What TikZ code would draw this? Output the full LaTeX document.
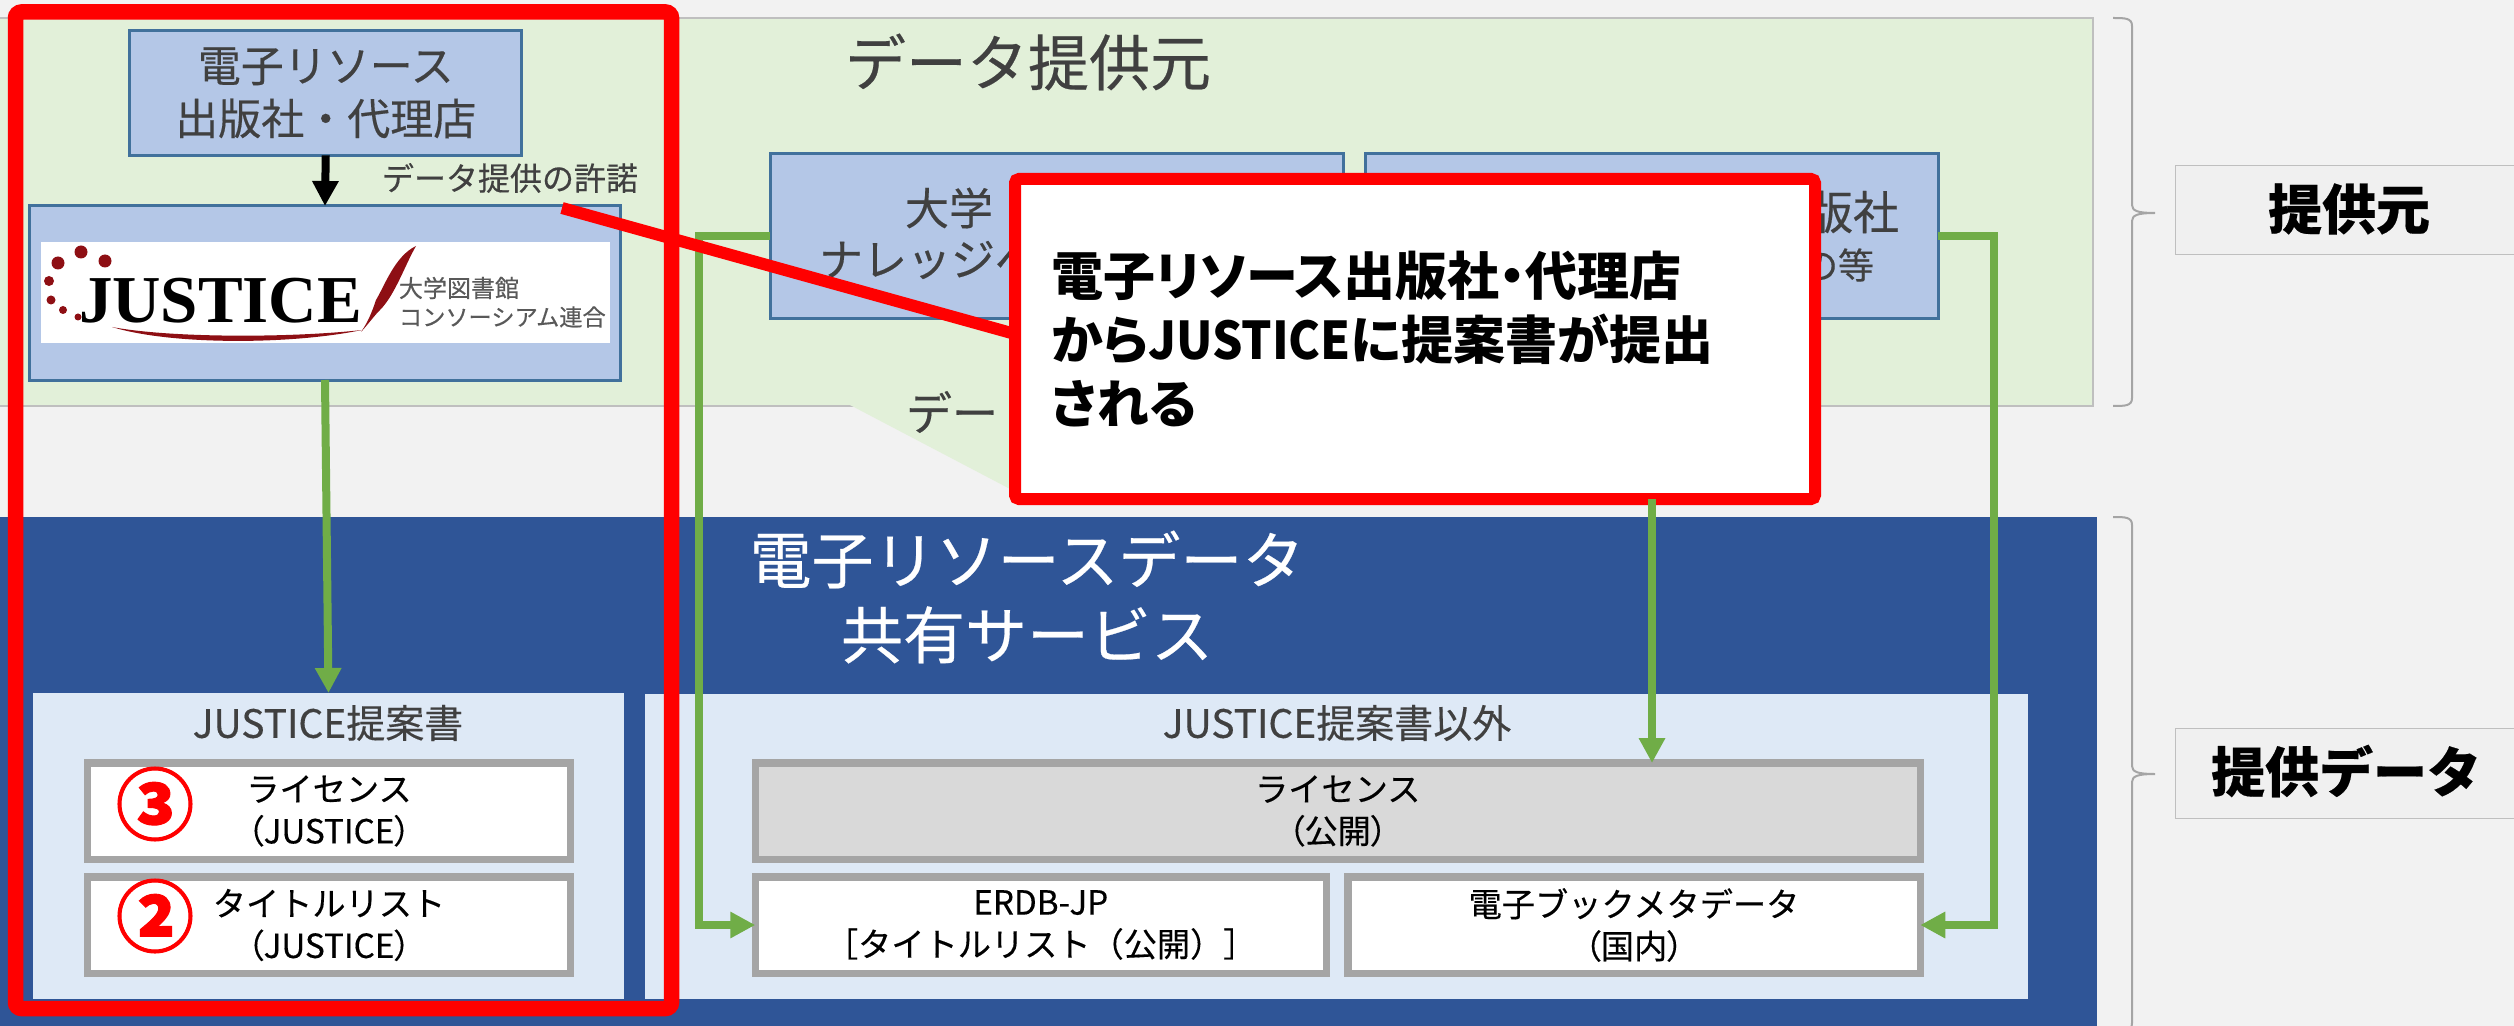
\documentclass[tikz,border=0pt]{standalone}
\usepackage{fontspec}
\usepackage{graphicx}
\setmainfont{Noto Sans CJK JP}[FakeBold=0.35]
\newfontfamily\pl[RawFeature=+palt]{Noto Sans CJK JP}
\newfontfamily\plm[RawFeature=+palt,FakeBold=0.35]{Noto Sans CJK JP}
\newfontfamily\lserif{Liberation Serif}
\newfontfamily\numf[BoldFeatures={FakeBold=1.2}]{Noto Sans CJK JP}
\usetikzlibrary{arrows.meta,calc}
\definecolor{bgc}{HTML}{F2F2F2}
\definecolor{greenp}{HTML}{E2F0D9}
\definecolor{bluep}{HTML}{2F5597}
\definecolor{lightp}{HTML}{DEE9F6}
\definecolor{boxb}{HTML}{B4C7E7}
\definecolor{boxl}{HTML}{41719C}
\definecolor{grayl}{HTML}{A5A5A5}
\definecolor{grayf}{HTML}{D9D9D9}
\definecolor{garr}{HTML}{70AD47}
\definecolor{thin}{HTML}{BFBFBF}
\definecolor{dtext}{HTML}{404040}
\definecolor{dred}{HTML}{8E0F14}
\tikzset{
  x=0.5pt,y=-0.5pt,
  sz/.style 2 args={minimum width=#1*0.5pt,minimum height=#2*0.5pt},
  every node/.style={inner sep=0pt,outer sep=0pt},
  bluebox/.style={draw=boxl,fill=boxb,line width=1.5pt,text=dtext},
  datbox/.style={draw=grayl,fill=white,line width=3.75pt,text=black,align=center,font=\fontsize{16.6}{21}\selectfont},
  lightpanel/.style={fill=lightp},
  sidebox/.style={draw=thin,fill=black!6,line width=0.5pt,text=black,font=\fontsize{27}{32}\bfseries\selectfont},
  greenarrow/.style={draw=garr,line width=4pt,-{Triangle[length=12.5pt,width=12.5pt]}},
  blackarrow/.style={draw=black,line width=4pt,-{Triangle[length=12.5pt,width=12.5pt]}},
  redline/.style={draw=red,line width=6pt},
  bracepath/.style={draw=grayl,line width=1pt},
  num/.style={text=red,font=\fontsize{39}{39}\numf\bfseries\selectfont},
  heading/.style={text=dtext,font=\fontsize{19.5}{24}\selectfont},
}
\begin{document}
\begin{tikzpicture}
\useasboundingbox (0,0) rectangle (2514,1026);
\clip (0,0) rectangle (2514,1026);
\fill[bgc] (0,0) rectangle (2514,1026);
% top panel
\filldraw[fill=greenp,draw=thin,line width=0.6pt] (-5,18) rectangle (2093,406);
\fill[greenp] (850,405) -- (1012,490) -- (1012,405) -- cycle;
\node[text=dtext,font=\fontsize{30.5}{36}\selectfont] (ttop) at (1028,62) {データ提供元};
\node[text=dtext,font=\fontsize{23}{28}\selectfont,anchor=west] (tdata) at (906,412) {デー};
% bottom panel
\fill[bluep] (-5,517) rectangle (2097,1030);
\node[text=white,font=\fontsize{31}{37.5}\selectfont,align=center] (tblue) at (1027,597) {電子リソースデータ\\共有サービス};
\node[lightpanel,sz={591}{306}] (p1) at (328.5,846) {};
\node[lightpanel,sz={1383}{305}] (p2) at (1336.5,846.5) {};
\node[heading] (p1t) at (328,723) {JUSTICE提案書};
\node[heading] (p2t) at (1337,723) {JUSTICE提案書以外};
% data boxes
\node[datbox,sz={483}{96.5}] (lic1) at (329,811) {ライセンス\\{\plm（JUSTICE）}};
\node[datbox,sz={483}{96.5}] (tit1) at (329,925) {タイトルリスト\\{\plm（JUSTICE）}};
\node[datbox,fill=grayf,sz={1165}{96.5}] (lic2) at (1337.75,811) {ライセンス\\{\plm（公開）}};
\node[datbox,sz={571}{96.5}] (erdb) at (1040.75,925) {ERDB-JP\\［タイトルリスト（公開）］};
\node[datbox,sz={572.5}{96.5}] (ebook) at (1634,925) {電子ブックメタデータ\\{\plm（国内）}};
\node[num] (n3) at (155,804) {③};
\node[num] (n2) at (155,916) {②};
% provider boxes
\node[bluebox,sz={392}{125},align=center,font=\fontsize{21.5}{26.5}\selectfont] (pub) at (325.75,92.85) {電子リソース\\出版社・代理店};
\node[bluebox,sz={591}{174}] (jb) at (325,293) {};
\node[bluebox,sz={573}{165}] (b1) at (1056.5,236.5) {};
\node[bluebox,sz={573}{165}] (b2) at (1651.5,236.5) {};
\node[text=dtext,font=\fontsize{22}{26}\selectfont] (b1a) at (949,208) {大学};
\node[text=dtext,font=\fontsize{22}{26}\selectfont,anchor=west] (b1b) at (819,260) {ナレッジベ};
\node[text=dtext,font=\fontsize{23}{28}\selectfont,anchor=east] (b2a) at (1899,212) {版社};
\node[text=dtext,font=\fontsize{18}{22}\selectfont,anchor=east] (b2b) at (1874,265) {の等};
\node[text=dtext,font=\fontsize{16}{20}\selectfont] (perm) at (510,178) {データ提供の許諾};
% logo
\fill[white] (40.5,242) rectangle (610,343);
\fill[dred] (58,263) circle (6.5) (81,252) circle (6.5) (105,261) circle (6.5)
  (49,281) circle (5) (51,300) circle (4.5) (63,310) circle (4) (78,317) circle (3.5);
\node[font=\fontsize{33.5}{36}\lserif\bfseries\selectfont,text=black,anchor=west] (jlogo) at (79,301) {JUSTICE};
\fill[dred] (416,246) .. controls (395,256) and (385,285) .. (376,300) .. controls (372,312) and (368,322) .. (361,332)
  .. controls (370,322) and (374,316) .. (380,310) .. controls (395,295) and (405,265) .. (416,246) -- cycle;
\fill[dred] (112,327) .. controls (170,345) and (290,345) .. (362,330) .. controls (290,338) and (170,338) .. (112,327) -- cycle;
\node[font=\fontsize{12}{14}\selectfont,text=black!65,anchor=west] (lg1) at (399,288) {大学図書館};
\node[font=\fontsize{11.6}{14}\selectfont,text=black!65,anchor=west] (lg2) at (399,317) {コンソーシアム連合};
% connectors
\coordinate (railL) at (699,925);
\coordinate (railR) at (1994,925);
\coordinate (midT) at (1652,763);
\draw[blackarrow] (pub.south) -- (jb.north);
\draw[greenarrow] (jb.south) -- (p1.north);
\draw[greenarrow] (b1.west) -| (railL) -- (erdb.west);
\draw[greenarrow] (b2.east) -| (railR) -- (ebook.east);
% side
\draw[bracepath] (2113,18) .. controls (2125,18) and (2132,18) .. (2132,26) -- (2132,205) .. controls (2132,211) and (2138,213) .. (2155,213) .. controls (2138,213) and (2132,215) .. (2132,221) -- (2132,398) .. controls (2132,406) and (2125,406) .. (2113,406);
\draw[bracepath] (2113,517) .. controls (2125,517) and (2132,517) .. (2132,525) -- (2132,766) .. controls (2132,772) and (2138,774) .. (2155,774) .. controls (2138,774) and (2132,776) .. (2132,782) -- (2132,1023) .. controls (2132,1031) and (2125,1031) .. (2113,1031);
\node[sidebox,sz={360}{89}] (s1) at (2355,210.5) {};
\node[sidebox,sz={360}{90}] (s2) at (2355,773) {};
\node[text=black,font=\fontsize{27}{32}\bfseries\selectfont] (s1t) at (2349,209) {提供元};
\node[text=black,font=\fontsize{27}{32}\bfseries\selectfont] (s2t) at (2346,771) {提供データ};
% highlight
\draw[red,line width=7.75pt,rounded corners=3pt] (15.5,12) rectangle (671.5,1008.5);
\coordinate (redS) at (562,208);
\coordinate (redE) at (1015,334);
\draw[redline] (redS) -- (redE);
\node[draw=red,fill=white,line width=6pt,rounded corners=2pt,sz={800}{320},text=black,align=left,text width=364pt,font=\fontsize{26}{32}\pl\bfseries\selectfont] (callout) at (1415,339) {電子リソース出版社・代理店\\から\scalebox{0.92}[1]{JUSTICE}に提案書が提出\\される};
\draw[greenarrow] (callout.south -| midT) -- (midT);
\end{tikzpicture}
\end{document}
